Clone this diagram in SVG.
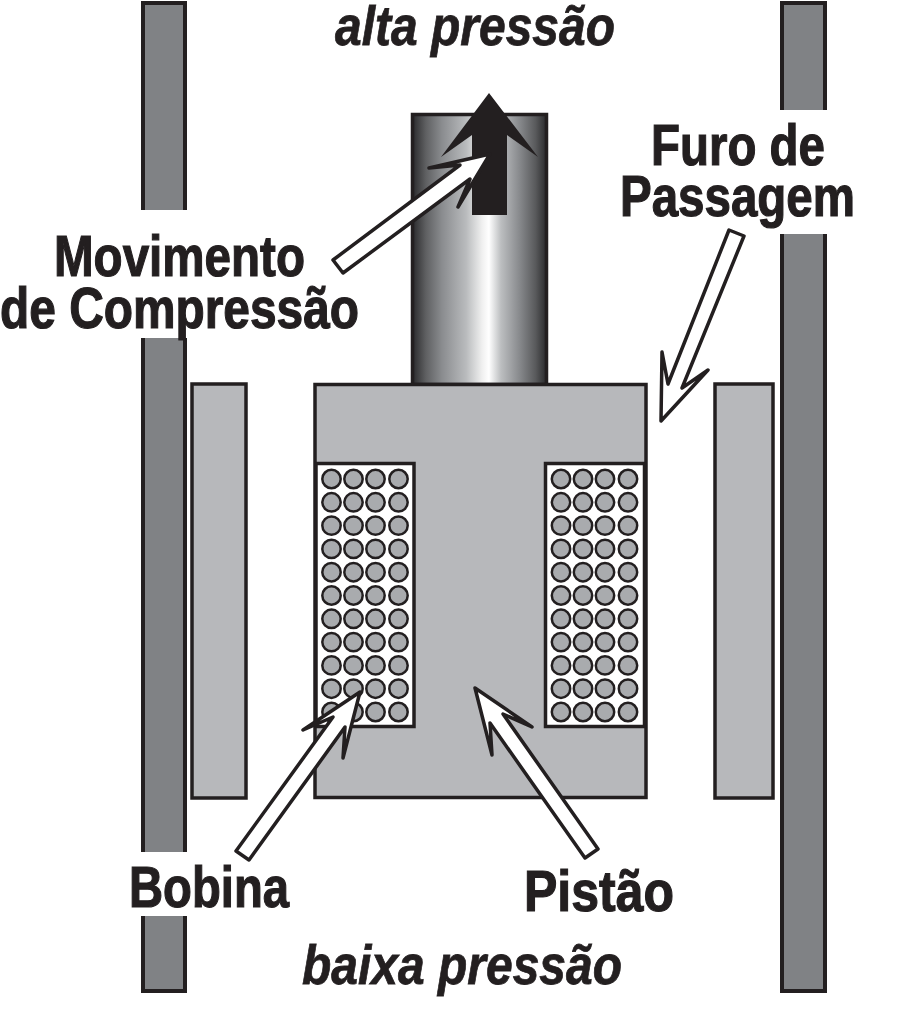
<svg xmlns="http://www.w3.org/2000/svg" width="905" height="1013" viewBox="0 0 905 1013">
<style>
.wall{fill:#808285;stroke:none}
.edge{fill:none;stroke:#231f20;stroke-width:4}
.part{fill:#b7b8bb;stroke:#231f20;stroke-width:3.5}
.win{fill:#fff;stroke:#231f20;stroke-width:3.5}
.turn{fill:#a9abae;stroke:#231f20;stroke-width:2.5}
.arrow{fill:#fff;stroke:#231f20;stroke-width:3.5;stroke-linejoin:round}
text{font-family:"Liberation Sans",Arial,sans-serif;font-weight:700;fill:#231f20;stroke:#231f20;stroke-width:1.2;font-size:58px}
.it{font-style:italic;font-size:55px;stroke-width:.8}
</style>
<defs>
<linearGradient id="cyl" x1="0" y1="0" x2="1" y2="0">
<stop offset="0" stop-color="#2a2a2c"/>
<stop offset=".1" stop-color="#5f6062"/>
<stop offset=".22" stop-color="#8a8c8f"/>
<stop offset=".4" stop-color="#b9bbbd"/>
<stop offset=".52" stop-color="#f0f0f0"/>
<stop offset=".57" stop-color="#fff"/>
<stop offset=".66" stop-color="#bcbec0"/>
<stop offset=".8" stop-color="#87898c"/>
<stop offset=".92" stop-color="#58595b"/>
<stop offset="1" stop-color="#2a2a2c"/>
</linearGradient>
<g id="coil">
<g id="row"><circle class="turn" cx="0" cy="0" r="9.2"/><circle class="turn" cx="22" cy="0" r="9.2"/><circle class="turn" cx="44" cy="0" r="9.2"/><circle class="turn" cx="67" cy="0" r="9.2"/></g>
<use href="#row" y="23.3"/><use href="#row" y="46.6"/><use href="#row" y="69.9"/><use href="#row" y="93.2"/><use href="#row" y="116.5"/><use href="#row" y="139.8"/><use href="#row" y="163.1"/><use href="#row" y="186.4"/><use href="#row" y="209.7"/><use href="#row" y="233"/>
</g>
</defs>
<rect width="905" height="1013" fill="#fff"/>
<g id="parede-esquerda">
<rect class="wall" x="143" y="2" width="42" height="208"/><path class="edge" d="M143,210V3H185V210"/>
<rect class="wall" x="143" y="338" width="42" height="514"/><path class="edge" d="M143,338V852M185,338V852"/>
<rect class="wall" x="143" y="916" width="42" height="76"/><path class="edge" d="M143,916V991H185V916"/>
</g>
<g id="parede-direita">
<rect class="wall" x="782" y="2" width="43" height="108"/><path class="edge" d="M782,110V3H825V110"/>
<rect class="wall" x="782" y="234" width="43" height="758"/><path class="edge" d="M782,234V991H825V234"/>
</g>
<g id="estator-esquerdo"><rect class="part" x="192" y="384" width="54" height="414"/></g>
<g id="estator-direito"><rect class="part" x="715" y="384" width="58" height="414"/></g>
<g id="haste"><rect x="412.500" y="114.500" width="134" height="270" fill="url(#cyl)" stroke="#231f20" stroke-width="3.500"/></g>
<g id="pistao"><rect class="part" x="315" y="384.500" width="331" height="413"/></g>
<g id="bobina-esquerda"><rect class="win" x="316" y="463.500" width="98" height="263"/><use href="#coil" x="331.500" y="479"/></g>
<g id="bobina-direita"><rect class="win" x="545.500" y="463.500" width="99" height="263"/><use href="#coil" x="561" y="479"/></g>
<g id="seta-fluxo"><polygon points="489,93 538,157 507,135 507,215 472,215 472,135 441,157" fill="#231f20"/></g>
<g id="connectors">
<polygon class="arrow" points="490,154 429,168 460,165 333,260 343,273 470,179 458,207"/>
<polygon class="arrow" points="360,692 303,730 333,717 236,851 249,860 345,727 343,758"/>
<polygon class="arrow" points="475,688 532,727 503,714 598,849 585,858 490,723 492,755"/>
<polygon class="arrow" points="661,421 708,370 682,388 744,236 729,230 668,384 662,352"/>
</g>
<g id="rotulos">
<text class="it" x="335" y="45" textLength="280" lengthAdjust="spacingAndGlyphs">alta pressão</text>
<text class="it" x="302" y="984" textLength="320" lengthAdjust="spacingAndGlyphs">baixa pressão</text>
<text x="651" y="165" textLength="174" lengthAdjust="spacingAndGlyphs">Furo de</text>
<text x="620" y="216" textLength="235" lengthAdjust="spacingAndGlyphs">Passagem</text>
<text x="54" y="276" textLength="251" lengthAdjust="spacingAndGlyphs">Movimento</text>
<text x="0" y="328" textLength="359" lengthAdjust="spacingAndGlyphs">de Compressão</text>
<text x="129" y="907" textLength="160" lengthAdjust="spacingAndGlyphs">Bobina</text>
<text x="524" y="911" textLength="150" lengthAdjust="spacingAndGlyphs">Pistão</text>
</g>
</svg>
